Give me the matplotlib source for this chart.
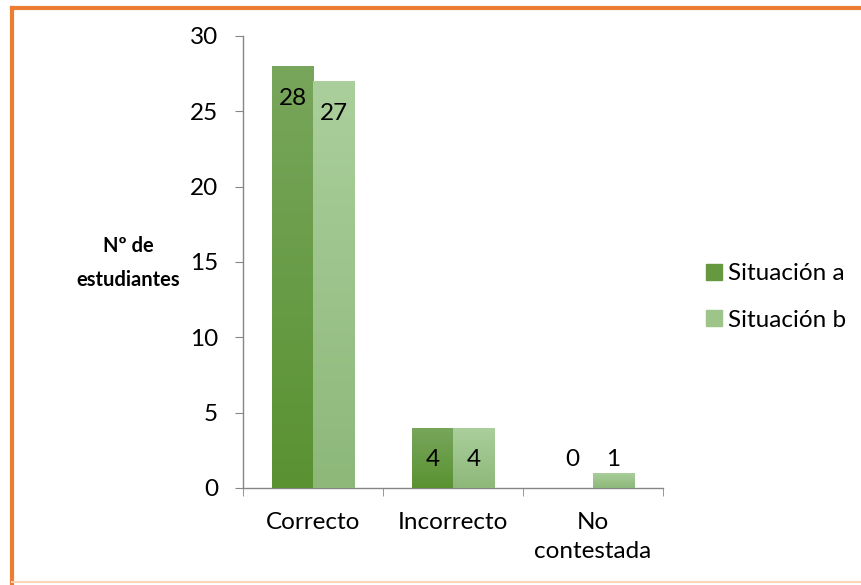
import matplotlib
matplotlib.use("Agg")
import matplotlib.pyplot as plt
import numpy as np
from matplotlib.colors import LinearSegmentedColormap
from matplotlib.patches import Rectangle

categories = ["Correcto", "Incorrecto", "No\ncontestada"]
series_names = ["Situación a", "Situación b"]
situacion_a = [28, 4, 0]
situacion_b = [27, 4, 1]
yticks = [0, 5, 10, 15, 20, 25, 30]

plt.rcParams['font.family'] = ['Lato', 'DejaVu Sans']
FS = 17.5

fig = plt.figure(figsize=(8.62, 5.85), dpi=100)
ax = fig.add_axes([243/862, 97/585, 420/862, 452/585])

x = np.arange(len(categories))
w = 0.293
cm_a = LinearSegmentedColormap.from_list("a", ["#5a9232", "#78a65c"])
cm_b = LinearSegmentedColormap.from_list("b", ["#8db87a", "#abcf9c"])
grad = np.linspace(0, 1, 256).reshape(-1, 1)

for vals, off, cm, solid in [(situacion_a, -w/2, cm_a, "#66993f"),
                              (situacion_b, w/2, cm_b, "#9dc489")]:
    bars = ax.bar(x + off, vals, width=w, color=solid, zorder=2)
    for b in bars:
        h = b.get_height()
        if h <= 0:
            continue
        x0 = b.get_x()
        im = ax.imshow(grad, cmap=cm, aspect='auto', origin='lower',
                       extent=[x0, x0 + b.get_width(), 0, h], zorder=3)
        im.set_clip_path(b)
    for xi, v in zip(x + off, vals):
        ax.text(xi, max(v - 2.12, 1.86), str(v), ha='center', va='center',
                fontsize=FS, color='black', zorder=4)

ax.set_xlim(-0.5, len(categories) - 0.5)
ax.set_ylim(0, 30)
ax.set_yticks(yticks)
ax.set_yticklabels([str(t) for t in yticks], fontsize=FS)
ax.set_xticks(x)
ax.set_xticklabels(categories, fontsize=FS, linespacing=1.5)
ax.tick_params(axis='x', length=0, pad=17)
ax.tick_params(axis='y', length=5.8, color='#868686', pad=12)
ax.set_xticks(np.arange(-0.5, len(categories), 1.0), minor=True)
ax.tick_params(axis='x', which='minor', length=6, color='#868686')
for s in ['top', 'right']:
    ax.spines[s].set_visible(False)
for s in ['left', 'bottom']:
    ax.spines[s].set_color('#868686')
    ax.spines[s].set_linewidth(1.0)

fig.text(128/862, 1 - 263/585, "Nº de\nestudiantes", ha='center', va='center',
         fontsize=14.5, fontweight='bold', linespacing=1.85)

handles = [Rectangle((0, 0), 1, 1, color="#66993f"), Rectangle((0, 0), 1, 1, color="#9dc489")]
fig.legend(handles, series_names, loc='center left', bbox_to_anchor=(684/862, 1 - 297/585),
           frameon=False, fontsize=FS, handlelength=0.65, handleheight=0.65,
           handletextpad=0.25, labelspacing=1.05)

fig.add_artist(plt.Line2D([12/862, 12/862], [0, 1 - 8/585], color='#ed7d31', lw=3, transform=fig.transFigure))
fig.add_artist(plt.Line2D([12/862, 1], [1 - 8/585, 1 - 8/585], color='#ed7d31', lw=3, transform=fig.transFigure))
fig.add_artist(plt.Line2D([12/862, 1], [3/585, 3/585], color='#fbd5b5', lw=1.5, transform=fig.transFigure))

fig.savefig("out.png", dpi=100)
